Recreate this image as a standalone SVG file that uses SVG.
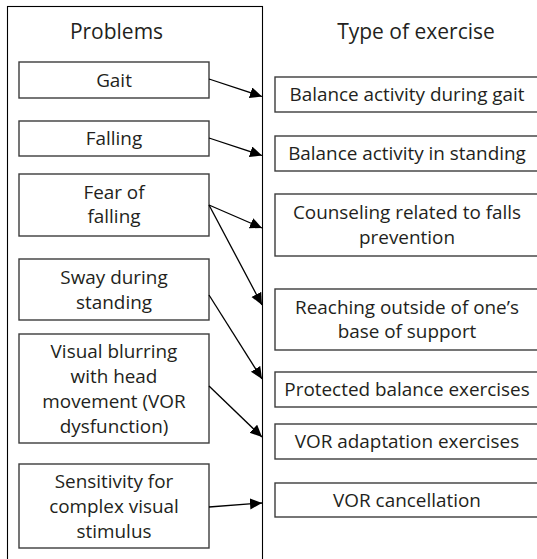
<svg xmlns="http://www.w3.org/2000/svg" width="537" height="559" viewBox="0 0 537 559">
<defs>
<style>
.box{fill:#fff;stroke:#3c3c3c;stroke-width:1.4}
.t{font-family:"Open Sans","Liberation Sans",sans-serif;font-size:18.9px;fill:#231f20;text-anchor:middle}
.h{font-family:"Open Sans","Liberation Sans",sans-serif;font-size:21px;fill:#231f20;text-anchor:middle}
.c{stroke:#000;stroke-width:1.3;fill:none;marker-end:url(#ah)}
</style>
<marker id="ah" markerUnits="userSpaceOnUse" markerWidth="13" markerHeight="12" refX="12" refY="5.5" orient="auto" viewBox="0 0 13 12">
<path d="M0,0 L12,5.5 L0,11 z" fill="#000"/>
</marker>
</defs>
<rect width="537" height="559" fill="#fff"/>
<rect id="panel" x="7.5" y="6.5" width="255" height="600" fill="none" stroke="#000" stroke-width="1.1"/>
<text class="h" x="116.5" y="38.5">Problems</text>
<text class="h" x="416" y="38.5">Type of exercise</text>

<g id="p-gait"><rect class="box" x="19" y="62" width="190" height="36"/><text class="t" x="114" y="86.5">Gait</text></g>
<g id="p-falling"><rect class="box" x="19" y="121" width="190" height="35"/><text class="t" x="114" y="145">Falling</text></g>
<g id="p-fear"><rect class="box" x="19" y="174" width="190" height="62"/><text class="t" x="114" y="198.5"><tspan x="114">Fear of</tspan><tspan x="114" dy="24.5">falling</tspan></text></g>
<g id="p-sway"><rect class="box" x="19" y="259" width="190" height="61"/><text class="t" x="114" y="283.5"><tspan x="114">Sway during</tspan><tspan x="114" dy="25">standing</tspan></text></g>
<g id="p-visual"><rect class="box" x="19" y="334" width="190" height="109"/><text class="t" x="114" y="358"><tspan x="114">Visual blurring</tspan><tspan x="114" dy="25">with head</tspan><tspan x="114" dy="25">movement (VOR</tspan><tspan x="114" dy="25">dysfunction)</tspan></text></g>
<g id="p-sens"><rect class="box" x="19" y="464" width="190" height="84"/><text class="t" x="114" y="488"><tspan x="114">Sensitivity for</tspan><tspan x="114" dy="25">complex visual</tspan><tspan x="114" dy="25">stimulus</tspan></text></g>

<g id="e-gait"><rect class="box" x="275" y="77" width="264" height="35"/><text class="t" x="407" y="101">Balance activity during gait</text></g>
<g id="e-standing"><rect class="box" x="275" y="136" width="264" height="35"/><text class="t" x="407" y="160">Balance activity in standing</text></g>
<g id="e-counsel"><rect class="box" x="275" y="194" width="264" height="62"/><text class="t" x="407" y="219"><tspan x="407">Counseling related to falls</tspan><tspan x="407" dy="24.5">prevention</tspan></text></g>
<g id="e-reach"><rect class="box" x="275" y="289" width="264" height="61"/><text class="t" x="407" y="313.5"><tspan x="407">Reaching outside of one’s</tspan><tspan x="407" dy="24.5">base of support</tspan></text></g>
<g id="e-protected"><rect class="box" x="275" y="372" width="264" height="35"/><text class="t" x="407" y="396">Protected balance exercises</text></g>
<g id="e-voradapt"><rect class="box" x="275" y="424" width="264" height="35"/><text class="t" x="407" y="448">VOR adaptation exercises</text></g>
<g id="e-vorcancel"><rect class="box" x="275" y="483" width="264" height="34"/><text class="t" x="407" y="506.5">VOR cancellation</text></g>

<g id="connectors">
<line class="c" x1="209" y1="79" x2="262" y2="96.5"/>
<line class="c" x1="209" y1="138" x2="262" y2="155.5"/>
<line class="c" x1="209" y1="205" x2="262" y2="228"/>
<line class="c" x1="209" y1="205" x2="262" y2="305"/>
<line class="c" x1="209" y1="295" x2="262" y2="379"/>
<line class="c" x1="209" y1="386" x2="262" y2="437"/>
<line class="c" x1="209" y1="507" x2="262" y2="503"/>
</g>
</svg>
